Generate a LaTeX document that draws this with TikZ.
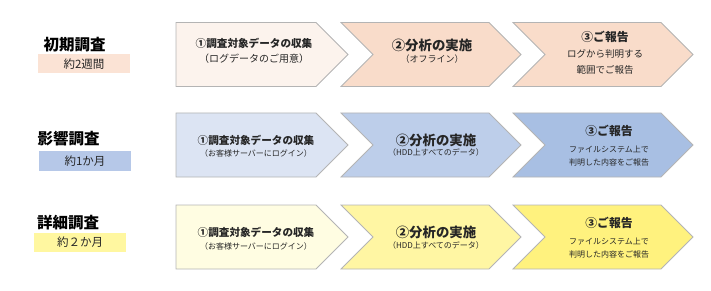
\documentclass[tikz,border=0pt]{standalone}
\usepackage{fontspec}
\setmainfont{Noto Sans CJK JP}

\definecolor{edgegray}{HTML}{B4B4B4}
\definecolor{txtdark}{HTML}{262626}
\definecolor{peachlight}{HTML}{FCF3ED}
\definecolor{peach}{HTML}{F9DCCA}
\definecolor{peachbox}{HTML}{FBE3D5}
\definecolor{bluelight}{HTML}{DCE4F3}
\definecolor{bluemid}{HTML}{BDCEEA}
\definecolor{bluedark}{HTML}{A8BFE3}
\definecolor{bluebox}{HTML}{B6C8E8}
\definecolor{yellowlight}{HTML}{FFFDE2}
\definecolor{yellowmid}{HTML}{FFF6A3}
\definecolor{yellowdark}{HTML}{FFF27E}
\definecolor{yellowbox}{HTML}{FFF7A0}

\begin{document}
\begin{tikzpicture}[
  x=1pt, y=-1pt,
  every node/.style={inner sep=0pt, align=center, text=txtdark},
  chev/.style={draw=edgegray, line width=0.8pt, line join=miter},
  phase/.style={font=\fontsize{15.5}{18}\selectfont\bfseries, text=black},
  span/.style={draw=none, minimum width=92pt, minimum height=19pt, font=\fontsize{11.5}{14}\selectfont},
  headA/.style={font=\fontsize{10.6}{13}\selectfont\bfseries},
  headB/.style={font=\fontsize{13.4}{16}\selectfont\bfseries},
  headC/.style={font=\fontsize{11.8}{14}\selectfont\bfseries},
  subL/.style={font=\fontsize{10}{12}\selectfont},
  subM/.style={font=\fontsize{9.5}{12}\selectfont},
  subS/.style={font=\fontsize{8}{10}\selectfont},
]
\useasboundingbox (0,0) rectangle (711,291);

% row 1: initial survey
\draw[chev, fill=peachlight] (176,22.5) -- (316,22.5) -- (348,54.5) -- (316,86.5) -- (176,86.5) -- cycle;
\draw[chev, fill=peach] (341,22.5) -- (489,22.5) -- (521,54.5) -- (489,86.5) -- (341,86.5) -- (373,54.5) -- cycle;
\draw[chev, fill=peach] (513,22.5) -- (661,22.5) -- (693,54.5) -- (661,86.5) -- (513,86.5) -- (545,54.5) -- cycle;
\node[phase] (init) at (74.5,45) {初期調査};
\node[span, fill=peachbox] (initspan) at (84,64) {約2週間};
\node[headA] (init1) at (254,43) {①調査対象データの収集};
\node[subL] (init1s) at (254,59) {（ログデータのご用意）};
\node[headB] (init2) at (432,45) {②分析の実施};
\node[subS, font=\fontsize{9}{11}\selectfont] (init2s) at (432,59) {（オフライン）};
\node[headC] (init3) at (605,37) {③ご報告};
\node[subM] (init3a) at (605,54) {ログから判明する};
\node[subM] (init3b) at (605,70) {範囲でご報告};

% row 2: impact survey
\draw[chev, fill=bluelight] (176,113) -- (316,113) -- (348,145) -- (316,177) -- (176,177) -- cycle;
\draw[chev, fill=bluemid] (341,113) -- (489,113) -- (521,145) -- (489,177) -- (341,177) -- (373,145) -- cycle;
\draw[chev, fill=bluedark] (513,113) -- (661,113) -- (693,145) -- (661,177) -- (513,177) -- (545,145) -- cycle;
\node[phase] (impact) at (68.5,139) {影響調査};
\node[span, fill=bluebox] (impactspan) at (85,161) {約1か月};
\node[headA] (impact1) at (256,140) {①調査対象データの収集};
\node[subS] (impact1s) at (256,153) {（お客様サーバーにログイン）};
\node[headB] (impact2) at (436,140) {②分析の実施};
\node[subS] (impact2s) at (436,152) {（HDD上すべてのデータ）};
\node[headC] (impact3) at (609,131) {③ご報告};
\node[subS] (impact3a) at (609,150) {ファイルシステム上で};
\node[subS] (impact3b) at (609,162) {判明した内容をご報告};

% row 3: detailed survey
\draw[chev, fill=yellowlight] (176,205) -- (316,205) -- (348,237) -- (316,269) -- (176,269) -- cycle;
\draw[chev, fill=yellowmid] (341,205) -- (489,205) -- (521,237) -- (489,269) -- (341,269) -- (373,237) -- cycle;
\draw[chev, fill=yellowdark] (513,205) -- (661,205) -- (693,237) -- (661,269) -- (513,269) -- (545,237) -- cycle;
\node[phase] (detail) at (68,223) {詳細調査};
\node[span, fill=yellowbox] (detailspan) at (80,242) {約２か月};
\node[headA] (detail1) at (256,232) {①調査対象データの収集};
\node[subS] (detail1s) at (256,246) {（お客様サーバーにログイン）};
\node[headB] (detail2) at (436,232) {②分析の実施};
\node[subS] (detail2s) at (436,245) {（HDD上すべてのデータ）};
\node[headC] (detail3) at (609,223) {③ご報告};
\node[subS] (detail3a) at (609,242) {ファイルシステム上で};
\node[subS] (detail3b) at (609,254) {判明した内容をご報告};
\end{tikzpicture}
\end{document}
